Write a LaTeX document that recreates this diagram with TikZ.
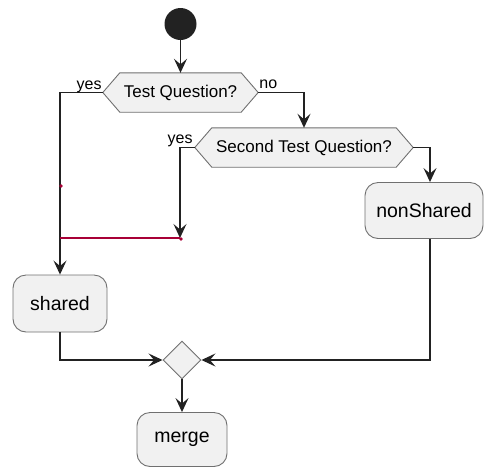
\documentclass[tikz,border=0pt]{standalone}
\usepackage{fontspec}
\setmainfont{Liberation Sans}
\usetikzlibrary{arrows.meta,backgrounds,shapes.geometric}
\definecolor{linec}{HTML}{222222}
\definecolor{boxc}{HTML}{F1F1F1}
\definecolor{borderc}{HTML}{707070}
\definecolor{redc}{HTML}{A80036}
\definecolor{startc}{HTML}{222222}
\tikzset{
  act/.style={rounded corners=13pt, draw=borderc, fill=boxc, line width=0.9pt,
    font=\fontsize{19.5}{22}\selectfont, inner sep=0pt},
  qtext/.style={font=\fontsize{17}{20}\selectfont, inner sep=0pt, minimum height=39pt},
  hexbg/.style={draw=borderc, fill=boxc, line width=0.9pt},
  flow/.style={draw=linec, line width=1.2pt, -{Stealth[length=14pt,width=13pt,inset=5.5pt]}},
  lbl/.style={font=\fontsize{16}{18}\selectfont, inner sep=0pt},
  redline/.style={draw=redc, line width=1.2pt}
}
\begin{document}
\begin{tikzpicture}[x=1pt,y=-1pt]
\useasboundingbox (0,0) rectangle (485,467);
\node[circle, fill=startc, minimum size=32pt, inner sep=0pt] (start) at (180.5,24) {};
\node[qtext, minimum width=155pt] (q1) at (180.5,92.5) {Test Question?};
\node[qtext, minimum width=218pt] (q2) at (304,147.5) {Second Test Question?};
\node[act, minimum width=94pt, minimum height=57pt] (shared) at (60,303.5) {shared};
\node[act, minimum width=118pt, minimum height=56pt] (nonShared) at (424,210.5) {nonShared};
\node[diamond, draw=borderc, fill=boxc, line width=0.9pt, minimum width=38pt, minimum height=38pt, inner sep=0pt] (m) at (182,360) {};
\node[act, minimum width=90pt, minimum height=54pt] (merge) at (182,439.5) {merge};
\begin{scope}[on background layer]
\draw[hexbg] (q1.west) -- ([xshift=17pt]q1.north west) -- ([xshift=-17pt]q1.north east) -- (q1.east) -- ([xshift=-17pt]q1.south east) -- ([xshift=17pt]q1.south west) -- cycle;
\draw[hexbg] (q2.west) -- ([xshift=17pt]q2.north west) -- ([xshift=-17pt]q2.north east) -- (q2.east) -- ([xshift=-17pt]q2.south east) -- ([xshift=17pt]q2.south west) -- cycle;
\end{scope}
\coordinate (j1) at (180,238);
\coordinate (d1) at (61,186);
\draw[flow] (start.south) -- (q1.north);
\draw[flow] (q1.west) -| (shared.north);
\draw[flow] (q1.east) -| (q2.north);
\draw[flow] (q2.west) -| (j1);
\draw[flow] (q2.east) -| ([xshift=6pt]nonShared.north);
\draw[redline] (shared.north |- j1) -- (j1);
\fill[redc] (d1) circle (1.8pt);
\fill[redc] ([xshift=1pt,yshift=-1pt]j1) circle (1.8pt);
\draw[flow] (shared.south) |- (m.west);
\draw[flow] ([xshift=6pt]nonShared.south) |- (m.east);
\draw[flow] (m.south) -- (merge.north);
\node[lbl, anchor=base east] (y1) at ([xshift=-1pt,yshift=3.5pt]q1.west) {yes};
\node[lbl, anchor=base west] (n1) at ([xshift=1pt,yshift=4pt]q1.east) {no};
\node[lbl, anchor=base east] (y2) at ([xshift=-2pt,yshift=4pt]q2.west) {yes};
\end{tikzpicture}
\end{document}
